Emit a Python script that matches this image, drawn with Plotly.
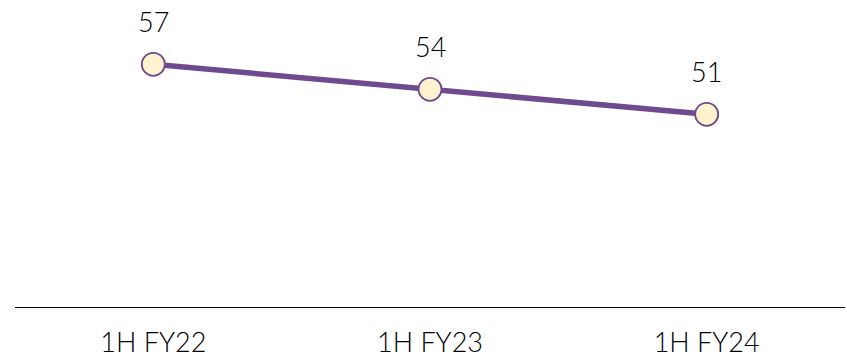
import plotly.graph_objects as go

categories = ["1H FY22", "1H FY23", "1H FY24"]
values = [57, 54, 51]
labels = ["57", "54", "51"]

LINE = "#6F4A8E"
FILL = "#FFF3CF"
FONT = "Lato"

fig = go.Figure()
fig.add_trace(go.Scatter(
    x=categories, y=values, mode="lines+markers",
    line=dict(color=LINE, width=5.5),
    marker=dict(size=23, color=FILL, line=dict(color=LINE, width=1.8)),
    hoverinfo="skip", showlegend=False,
))
for c, v, t in zip(categories, values, labels):
    fig.add_annotation(x=c, y=v, text=t, showarrow=False, yshift=43,
                       font=dict(family=FONT, size=27, color="#000000", weight=300))

fig.update_layout(
    width=847, height=358,
    margin=dict(l=15, r=2, t=0, b=51),
    paper_bgcolor="white", plot_bgcolor="white",
    xaxis=dict(type="category", range=[-0.5, 2.5], showgrid=False, zeroline=False,
               showline=True, linecolor="#000000", linewidth=1.2, ticks="",
               ticklabelstandoff=11, automargin=False,
               tickfont=dict(family=FONT, size=27, color="#000000", weight=300)),
    yaxis=dict(range=[27.88, 64.72], visible=False, showgrid=False, zeroline=False,
               automargin=False),
)
fig.write_html("out.html")
